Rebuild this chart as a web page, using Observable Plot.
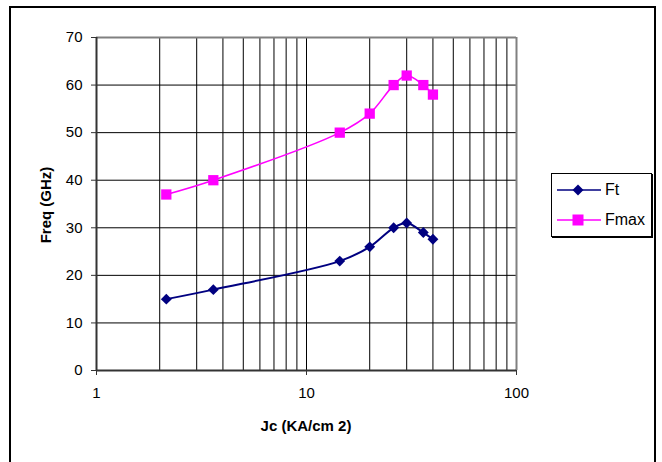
<!DOCTYPE html>
<html>
<head>
<meta charset="utf-8">
<script src="https://cdn.jsdelivr.net/npm/d3@7"></script>
<script src="https://cdn.jsdelivr.net/npm/@observablehq/plot@0.6"></script>
<style>
  html, body { margin: 0; padding: 0; background: #fff; }
  #wrap { position: relative; width: 662px; height: 462px; overflow: hidden; font-family: "Liberation Sans", Arial, sans-serif; }
  #border { position: absolute; left: 9px; top: 6px; width: 647px; height: 520px; border: 2px solid #000; box-sizing: border-box; }
  #chart { position: absolute; left: 0; top: 0; }
  #chart svg text { font-size: 15px; fill: #000; }
  .lbl { position: absolute; font-weight: bold; font-size: 15px; color: #000; white-space: nowrap; }
  #xlabel { left: 306px; top: 425px; transform: translate(-50%, -50%); }
  #ylabel { left: 45px; top: 205px; transform: translate(-50%, -50%) rotate(-90deg); }
  #legend { position: absolute; left: 551px; top: 173px; width: 101px; height: 64px; border: 1px solid #000; box-sizing: border-box; background: #fff; box-shadow: 1px 1px 0 #000; }
  #legend .row { position: absolute; left: 5px; height: 20px; display: flex; align-items: center; font-size: 16px; }
  #legend svg { margin-right: 4px; }
</style>
</head>
<body>
<div id="wrap">
  <div id="border"></div>
  <div id="chart"></div>
  <div class="lbl" id="xlabel">Jc (KA/cm 2)</div>
  <div class="lbl" id="ylabel">Freq (GHz)</div>
  <div id="legend"></div>
</div>
<script>
// Data
const jc   = [2.15, 3.6, 14.4, 20, 26, 30, 36, 40];
const ft   = [15, 17, 23, 26, 30, 31, 29, 27.6];
const fmax = [37, 40, 50, 54, 60, 62, 60, 58];
const seriesNames = ["Ft", "Fmax"];
const seriesColors = ["#000080", "#FF00FF"];
const xTicks = [1, 10, 100];
const yTicks = [0, 10, 20, 30, 40, 50, 60, 70];
const xGrid = [2, 3, 4, 5, 6, 7, 8, 9, 10, 20, 30, 40, 50, 60, 70, 80, 90];

const ftData = jc.map((x, i) => ({x, y: ft[i]}));
const fmaxData = jc.map((x, i) => ({x, y: fmax[i]}));
const hGrid = yTicks.filter(v => v > 0 && v < 70);

const chart = Plot.plot({
  width: 662,
  height: 462,
  marginLeft: 96,
  marginRight: 146,
  marginTop: 37,
  marginBottom: 92,
  style: {fontFamily: '"Liberation Sans", Arial, sans-serif', fontSize: "15px", background: "transparent", color: "#000"},
  x: {type: "log", domain: [1, 100]},
  y: {domain: [0, 70]},
  marks: [
    Plot.ruleX(xGrid, {stroke: "#000", strokeWidth: 1}),
    Plot.ruleY(hGrid, {stroke: "#000", strokeWidth: 1}),
    Plot.ruleY([70], {stroke: "#808080", strokeWidth: 2}),
    Plot.ruleX([100], {stroke: "#808080", strokeWidth: 2}),
    Plot.ruleY([0], {stroke: "#333", strokeWidth: 2}),
    Plot.ruleX([1], {stroke: "#333", strokeWidth: 2}),
    Plot.axisX({ticks: xTicks, tickFormat: d => String(d), tickSize: 5, tickPadding: 12, label: null, stroke: "#333", fontSize: 15}),
    Plot.axisY({ticks: yTicks, tickSize: 5, tickPadding: 9, label: null, stroke: "#333", fontSize: 15}),
    Plot.line(fmaxData, {x: "x", y: "y", stroke: seriesColors[1], strokeWidth: 1.6, curve: "catmull-rom"}),
    Plot.line(ftData, {x: "x", y: "y", stroke: seriesColors[0], strokeWidth: 2, curve: "catmull-rom"}),
    Plot.dot(fmaxData, {x: "x", y: "y", symbol: "square", r: 5.8, fill: seriesColors[1], stroke: "none"}),
    Plot.dot(ftData, {x: "x", y: "y", symbol: "diamond2", r: 4.9, fill: seriesColors[0], stroke: "none"})
  ]
});
document.getElementById("chart").appendChild(chart);

// Legend
const legend = document.getElementById("legend");
const symbols = ["diamond", "square"];
seriesNames.forEach((name, i) => {
  const row = document.createElement("div");
  row.className = "row";
  row.style.top = (i === 0 ? 6 : 36) + "px";
  const marker = symbols[i] === "diamond"
    ? `<polygon points="21,4.5 26.5,10 21,15.5 15.5,10" fill="${seriesColors[i]}"/>`
    : `<rect x="15.5" y="4.5" width="11" height="11" fill="${seriesColors[i]}"/>`;
  row.innerHTML = `<svg width="44" height="20"><line x1="0" y1="10" x2="44" y2="10" stroke="${seriesColors[i]}" stroke-width="1.6"/>${marker}</svg><span>${name}</span>`;
  legend.appendChild(row);
});
</script>
</body>
</html>
